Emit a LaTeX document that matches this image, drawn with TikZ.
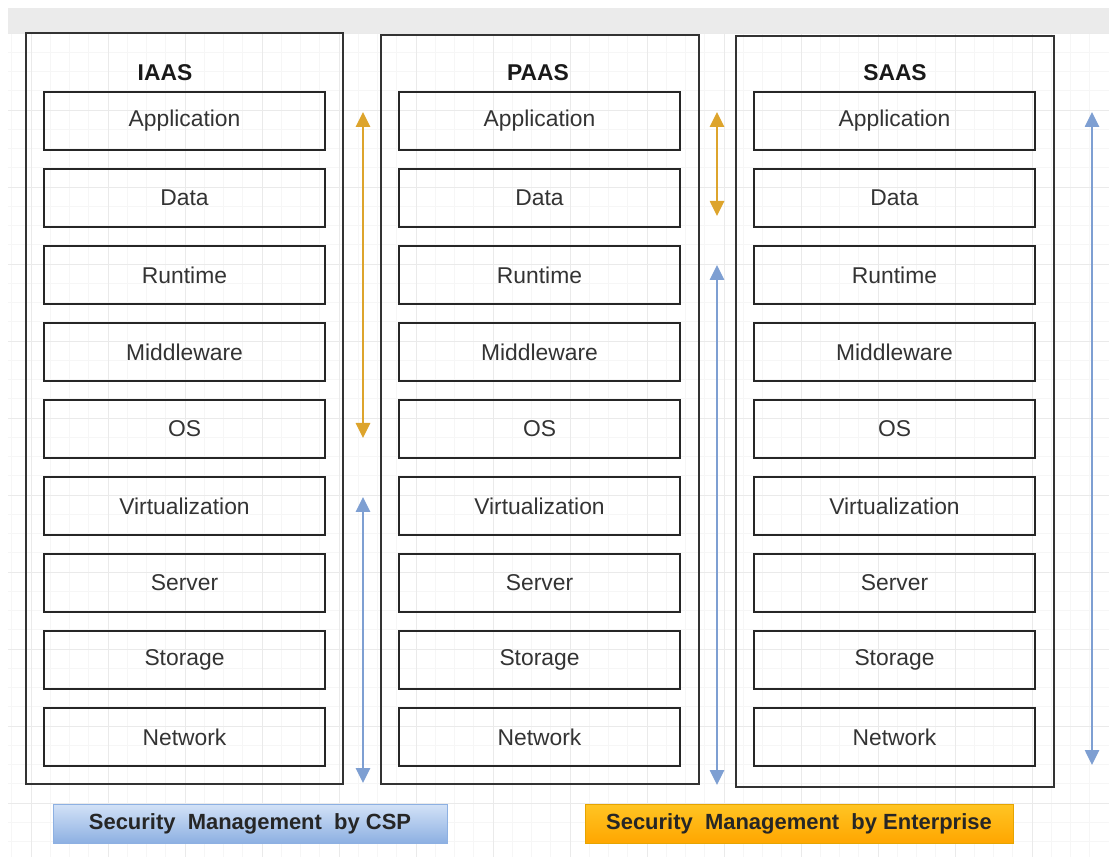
\documentclass[tikz,border=0pt]{standalone}
\usepackage{fontspec}
\setmainfont{Liberation Sans}
\usetikzlibrary{arrows.meta}

\definecolor{barGray}{HTML}{EBEBEB}
\definecolor{gridMinor}{HTML}{F6F6F6}
\definecolor{gridMajor}{HTML}{EAEAEA}
\definecolor{entOrange}{HTML}{DDA42C}
\definecolor{cspBlue}{HTML}{7E9FD2}
\definecolor{labelGray}{HTML}{333333}
\definecolor{cspTop}{HTML}{D3E2F7}
\definecolor{cspBottom}{HTML}{8DB0E2}
\definecolor{entTop}{HTML}{FFC524}
\definecolor{entBottom}{HTML}{FFA600}
\definecolor{entEdge}{HTML}{E6A400}

\tikzset{
	layer/.style={draw=black!85, line width=0.9pt, minimum width=5.62cm, minimum height=1.16cm,
		text=labelGray, font=\fontsize{13}{15}\selectfont},
	column/.style={draw=black!80, line width=1.1pt},
	coltitle/.style={font=\fontsize{13}{15}\selectfont\bfseries, text=black!90},
	entarrow/.style={entOrange, line width=1.5pt, {Triangle[width=0.28cm,length=0.3cm]}-{Triangle[width=0.28cm,length=0.3cm]}},
	csparrow/.style={cspBlue, line width=1.5pt, {Triangle[width=0.28cm,length=0.3cm]}-{Triangle[width=0.28cm,length=0.3cm]}},
	legend/.style={minimum height=0.78cm, font=\fontsize{12.5}{14}\selectfont\bfseries, text=black!85}
}

\begin{document}
\begin{tikzpicture}[x=0.02cm, y=-0.02cm]
	\useasboundingbox (0,0) rectangle (1109,857);

	% grid paper
	\foreach \i in {0,...,57} \draw[gridMinor, line width=0.4pt] ({11.75+\i*19.25},33) -- (11.75+\i*19.25,857);
	\foreach \j in {0,...,42} \draw[gridMinor, line width=0.4pt] (8,{33+\j*19.25}) -- (1109,{33+\j*19.25});
	\foreach \i in {0,...,14} \draw[gridMajor, line width=0.5pt] ({31+\i*77},33) -- ({31+\i*77},857);
	\foreach \j in {0,...,10} \draw[gridMajor, line width=0.5pt] (8,{33+\j*77}) -- (1109,{33+\j*77});

	\fill[barGray] (8,8) rectangle (1109,33); % top bar

	% outer columns
	\draw[column] (26,33) rectangle (343,784);
	\draw[column] (381,35) rectangle (699,784);
	\draw[column] (736,36) rectangle (1054,787);

	\node[coltitle] (iaas) at (165,73) {IAAS};
	\node[coltitle] (paas) at (538,73) {PAAS};
	\node[coltitle] (saas) at (895,73) {SAAS};

	% stack of layers
	\foreach \lbl [count=\k from 0] in {Application,Data,Runtime,Middleware,OS,Virtualization,Server,Storage,Network} {
		\node[layer] (i\k) at (184.5,{121+\k*77}) {\lbl};
		\node[layer] (p\k) at (539.5,{121+\k*77}) {\lbl};
		\node[layer] (s\k) at (894.5,{121+\k*77}) {\lbl};
	}

	% responsibility arrows
	\coordinate (ioTop) at (363,112);
	\coordinate (ioBot) at (363,438);
	\coordinate (icTop) at (363,497);
	\coordinate (icBot) at (363,783);
	\coordinate (poTop) at (717,112);
	\coordinate (poBot) at (717,216);
	\coordinate (pcTop) at (717,265);
	\coordinate (pcBot) at (717,785);
	\coordinate (scTop) at (1092,112);
	\coordinate (scBot) at (1092,765);

	\draw[entarrow] (ioTop) -- (ioBot);
	\draw[csparrow] (icTop) -- (icBot);
	\draw[entarrow] (poTop) -- (poBot);
	\draw[csparrow] (pcTop) -- (pcBot);
	\draw[csparrow] (scTop) -- (scBot);

	% legend
	\node[legend, minimum width=7.88cm, draw=cspBottom, top color=cspTop, bottom color=cspBottom] (bycsp) at (250,823.5) {Security~~Management~~by CSP};
	\node[legend, minimum width=8.56cm, draw=entEdge, top color=entTop, bottom color=entBottom] (byent) at (799,823.5) {Security~~Management~~by Enterprise};
\end{tikzpicture}
\end{document}
